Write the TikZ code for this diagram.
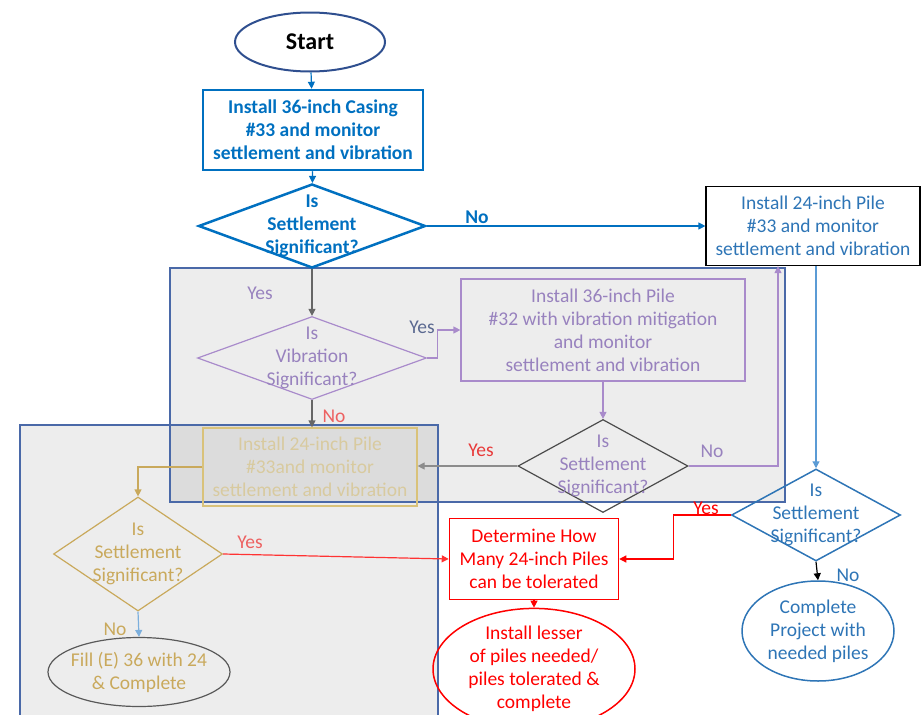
\documentclass[tikz,border=0pt]{standalone}
\usepackage{fontspec}
\setmainfont{Carlito}
\usetikzlibrary{shapes.geometric, arrows.meta, positioning}
\usepackage{xcolor}

\definecolor{navy}{HTML}{2F4F8F}
\definecolor{mainblue}{HTML}{0070C0}
\definecolor{lightblue}{HTML}{2E75B6}
\definecolor{paleblue}{HTML}{5B9BD5}
\definecolor{purp}{HTML}{9882BE}
\definecolor{purpline}{HTML}{A98BCB}
\definecolor{slate}{HTML}{5A6890}
\definecolor{tan}{HTML}{C9A95C}
\definecolor{paletan}{HTML}{D8CA9F}
\definecolor{tanline}{HTML}{D9C27A}
\definecolor{panelline}{HTML}{4A69A8}
\definecolor{redtext}{HTML}{E83A3A}

\begin{document}
\begin{tikzpicture}[x=1pt, y=-1pt,
    txt/.style={font=\fontsize{19.5}{23}\selectfont},
    box/.style={draw, rectangle, inner sep=0pt, align=center, txt},
    decision/.style={draw, diamond, inner sep=0pt},
    term/.style={draw, ellipse, inner sep=0pt, align=center, txt},
    dtext/.style={align=center, txt, inner sep=0pt},
    arr/.style={-{Triangle[length=7pt, width=7pt]}, line width=1.2pt},
    lbl/.style={txt, inner sep=0pt}
]

    \useasboundingbox (0,0) rectangle (924,715);

    % Grey panels (drawn first, overlap gets darker)
    \fill[black, fill opacity=0.07] (170,268) rectangle (785,502);
    \fill[black, fill opacity=0.07] (20,425) rectangle (438,720);
    \draw[panelline, line width=1.2pt] (170,268) rectangle (785,502);
    \draw[panelline, line width=1.2pt] (20,425) rectangle (438,720);

    % Main column
    \node[term, draw=navy, line width=2pt, minimum width=150pt, minimum height=59pt,
          font=\fontsize{24}{28}\selectfont\bfseries] (start) at (310,42) {Start};
    \node[box, draw=mainblue, text=mainblue, line width=2.5pt, font=\fontsize{19.5}{23}\selectfont\bfseries,
          minimum width=220pt, minimum height=80pt] (casing) at (313,130)
          {Install 36-inch Casing\\ \#33 and monitor\\ settlement and vibration};
    \node[decision, draw=mainblue, line width=2.5pt, minimum width=227pt, minimum height=84pt,
          label={[dtext, text=mainblue, font=\fontsize{19.5}{23}\selectfont\bfseries]center:{Is\\ Settlement\\ Significant?}}]
          (setA) at (312,226) {};

    % Right column
    \node[box, draw=black, text=lightblue, line width=1.2pt, minimum width=214pt, minimum height=79pt]
          (pileR) at (813,226) {Install 24-inch Pile\\ \#33 and monitor\\ settlement and vibration};
    \node[decision, draw=lightblue, line width=1.5pt, minimum width=169pt, minimum height=92pt,
          label={[dtext, text=lightblue]center:{Is\\ Settlement\\ Significant?}}]
          (setR) at (816,515) {};
    \node[term, draw=lightblue, text=lightblue, line width=1.5pt, minimum width=152pt, minimum height=100pt]
          (doneR) at (818,631) {Complete\\ Project with\\ needed piles};

    % Upper panel
    \node[decision, draw=purpline, line width=1.2pt, minimum width=229pt, minimum height=83pt,
          label={[dtext, text=purp]center:{Is\\ Vibration\\ Significant?}}]
          (vib) at (312,358) {};
    \node[box, draw=purpline, text=purp, line width=1.2pt, minimum width=284pt, minimum height=102pt]
          (pile36) at (603,330) {Install 36-inch Pile\\ \#32 with vibration mitigation\\ and monitor\\ settlement and vibration};
    \node[decision, draw=black!70, line width=1.2pt, minimum width=170pt, minimum height=93pt,
          label={[dtext, text=purp]center:{Is\\ Settlement\\ Significant?}}]
          (setB) at (603,466) {};
    \node[box, draw=tanline, text=paletan, line width=1.2pt, minimum width=214pt, minimum height=78pt]
          (pile24) at (310,467) {Install 24-inch Pile\\ \#33and monitor\\ settlement and vibration};

    % Lower panel
    \node[decision, draw=tan, line width=1.2pt, minimum width=169pt, minimum height=114pt,
          label={[dtext, text=tan]center:{Is\\ Settlement\\ Significant?}}]
          (setC) at (138,554) {};
    \node[term, draw=black!65, line width=1.2pt, minimum width=182pt, minimum height=69pt,
          label={[dtext, text=tan]center:{Fill (E) 36 with 24\\ \& Complete}}]
          (fill) at (139,672) {};

    % Red branch
    \node[box, draw=red, text=red, line width=1.5pt, minimum width=169pt, minimum height=81pt]
          (howmany) at (534,559) {Determine How\\ Many 24-inch Piles\\ can be tolerated};
    \node[term, draw=red, text=red, line width=1.5pt, minimum width=202pt, minimum height=98pt]
          (lesser) at (534,669) {Install lesser\\ of piles needed/\\ piles tolerated \&\\ complete};

    % Connectors
    \draw[arr, mainblue] (start) -- (casing);
    \draw[arr, mainblue] (casing) -- (setA);
    \draw[arr, mainblue] (setA.east) -- (pileR.west);
    \draw[arr, black!60] (setA.south) -- (vib.north);
    \draw[arr, purpline] (vib.east) -- ++(10,0) |- (pile36.west);
    \draw[arr, black!60] (vib.south) -- (vib.south |- pile24.north);
    \draw[arr, purpline] (pile36.south) -- (setB.north);
    \draw[arr, black!45] (setB.west) -- (setB.west -| pile24.east);
    \draw[arr, purpline] (setB.east) -| ([xshift=-35pt]pileR.south);
    \draw[arr, tan] (pile24.west) -| (setC.north);
    \draw[arr, red!80] (setC.east) -- (howmany.west);
    \draw[arr, paleblue!80] (setC.south) -- (fill.north);
    \draw[arr, red] (howmany.south) -- (lesser.north);
    \draw[arr, paleblue] (setR.north |- pileR.south) -- (setR.north);
    \draw[arr, red] (setR.west) -- ++(-57,0) |- (howmany.east);
    \draw[arr, black] (setR.south) -- (doneR.north);

    % Branch labels
    \node[lbl, text=mainblue, font=\fontsize{19.5}{23}\selectfont\bfseries] (noA) at (477,217) {No};
    \node[lbl, text=purp] (yesA) at (260,293) {Yes};
    \node[lbl, text=slate] (yesVib) at (422,327) {Yes};
    \node[lbl, text=redtext!80] (noVib) at (334,416) {No};
    \node[lbl, text=redtext] (yesB) at (481,450) {Yes};
    \node[lbl, text=purp] (noB) at (712,451) {No};
    \node[lbl, text=redtext!80] (yesC) at (250,542) {Yes};
    \node[lbl, text=tan] (noC) at (115,629) {No};
    \node[lbl, text=red] (yesR) at (706,508) {Yes};
    \node[lbl, text=lightblue] (noR) at (848,575) {No};

\end{tikzpicture}
\end{document}
